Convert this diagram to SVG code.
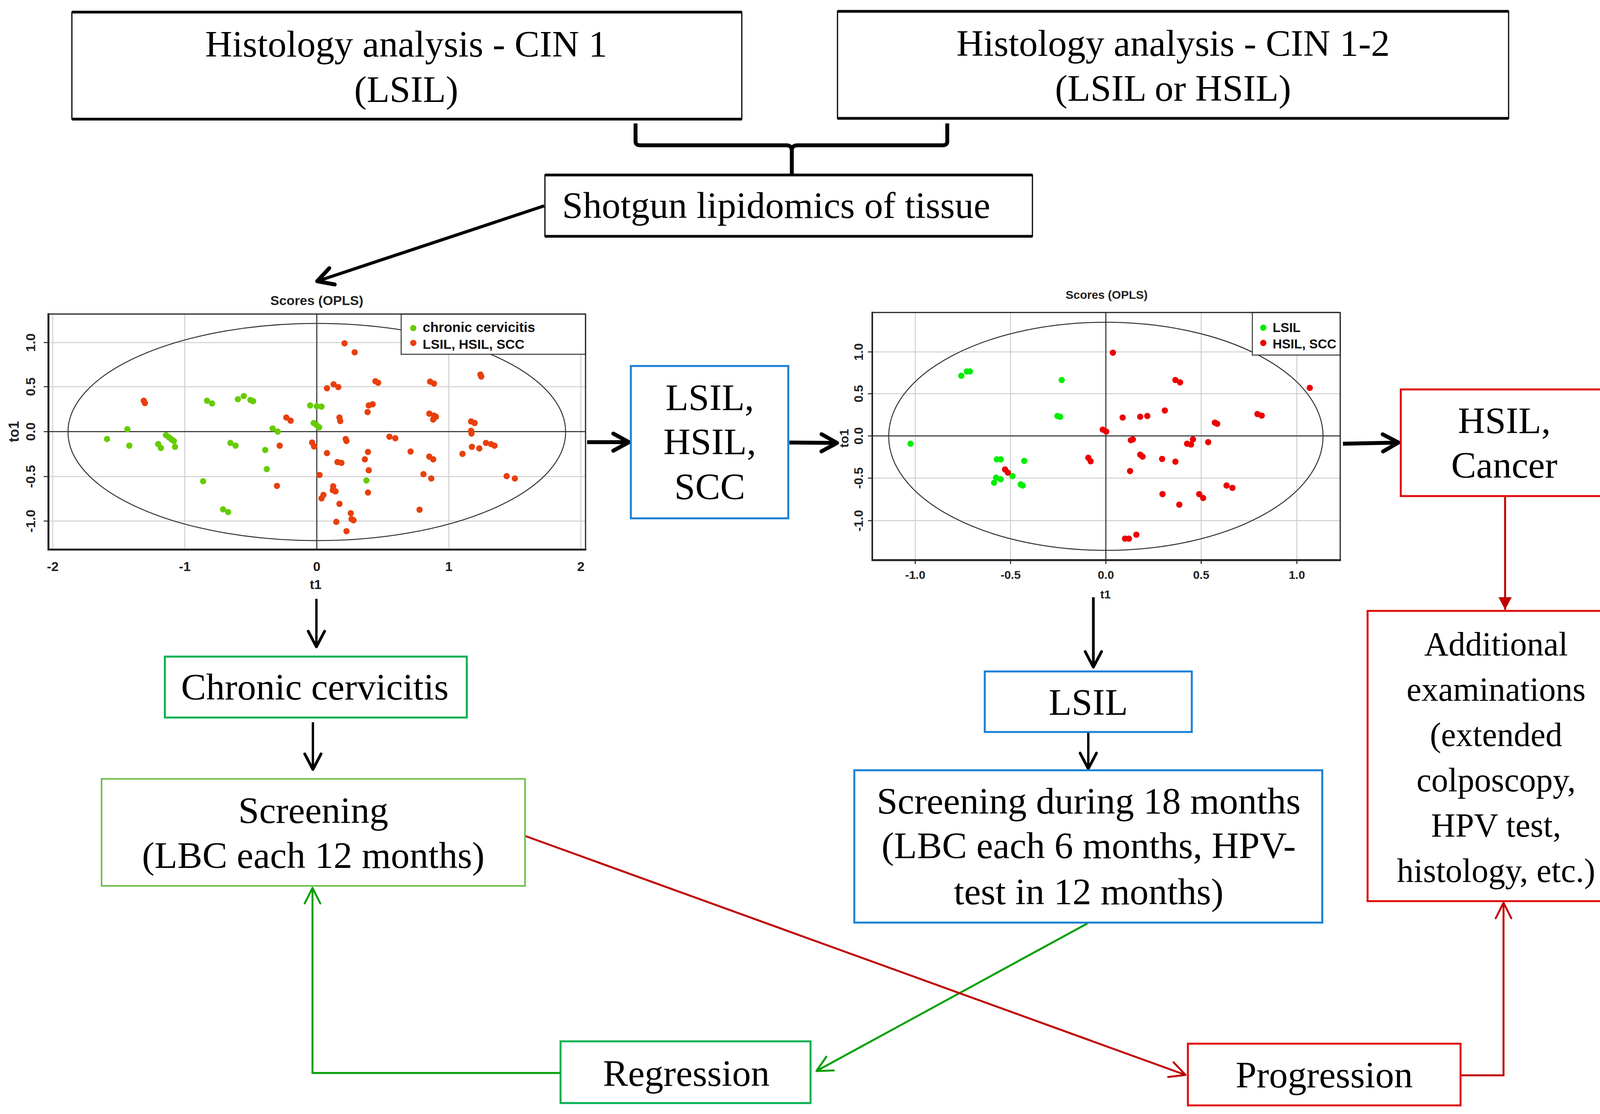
<svg xmlns="http://www.w3.org/2000/svg" width="4220" height="2852" viewBox="0 0 4220 2852">
<style>
.t{font-family:"Liberation Serif","Times New Roman",serif;font-size:96px;fill:#000;text-anchor:middle}
.ta{font-size:86px}
.ax{font-family:"Liberation Sans",Arial,sans-serif;font-weight:bold;fill:#222;text-anchor:middle}
.lg{font-family:"Liberation Sans",Arial,sans-serif;font-weight:bold;fill:#111}
.bx{fill:#fff;stroke:#000;stroke-width:3}
.hb{stroke:#000;stroke-width:7}
.blue{fill:#fff;stroke:#1a7fd4;stroke-width:5}
.red{fill:#fff;stroke:#e00a0a;stroke-width:5}
.grn{fill:#fff;stroke:#00b050;stroke-width:5}
.lgrn{fill:#fff;stroke:#6cbf4a;stroke-width:4}
.grid{stroke:#cfcfcf;stroke-width:2.5;fill:none}
.axl{stroke:#222;stroke-width:2.5;fill:none}
.frm{stroke:#222;stroke-width:3;fill:none}
.ell{stroke:#333;stroke-width:2.5;fill:none}
.g1{fill:#66cc00}.r1{fill:#e8400c}.g2{fill:#00ee00}.r2{fill:#ee0000}
circle{r:8px}
.k{stroke:#000;fill:none}
.cr{stroke:#c00000;fill:none;stroke-width:5}
.cg{stroke:#00a000;fill:none;stroke-width:5}
</style>
<defs>
<marker id="mK" viewBox="0 0 60 60" refX="54" refY="30" markerWidth="60" markerHeight="60" markerUnits="userSpaceOnUse" orient="auto" overflow="visible"><path d="M14,8 L54,30 L14,52" fill="none" stroke="#000" stroke-width="10" stroke-linecap="round" stroke-linejoin="round"/></marker>
<marker id="mk" viewBox="0 0 60 60" refX="54" refY="30" markerWidth="60" markerHeight="60" markerUnits="userSpaceOnUse" orient="auto" overflow="visible"><path d="M14,9 L54,30 L14,51" fill="none" stroke="#000" stroke-width="7" stroke-linecap="round" stroke-linejoin="round"/></marker>
<marker id="mG" viewBox="0 0 60 60" refX="54" refY="30" markerWidth="60" markerHeight="60" markerUnits="userSpaceOnUse" orient="auto" overflow="visible"><path d="M14,10 L54,30 L14,50" fill="none" stroke="#00a000" stroke-width="5" stroke-linecap="round" stroke-linejoin="round"/></marker>
<marker id="mR" viewBox="0 0 60 60" refX="54" refY="30" markerWidth="60" markerHeight="60" markerUnits="userSpaceOnUse" orient="auto" overflow="visible"><path d="M14,10 L54,30 L14,50" fill="none" stroke="#c00000" stroke-width="5" stroke-linecap="round" stroke-linejoin="round"/></marker>
<marker id="mRf" viewBox="0 0 40 40" refX="36" refY="20" markerWidth="40" markerHeight="40" markerUnits="userSpaceOnUse" orient="auto" overflow="visible"><path d="M4,3 L36,20 L4,37 Z" fill="#c00000"/></marker>
</defs>
<rect width="4220" height="2852" fill="#fff"/>

<g id="plot-left">
<line class="grid" x1="135" y1="804" x2="135" y2="1407"/>
<line class="grid" x1="473" y1="804" x2="473" y2="1407"/>
<line class="grid" x1="1149" y1="804" x2="1149" y2="1407"/>
<line class="grid" x1="1487" y1="804" x2="1487" y2="1407"/>
<line class="grid" x1="124" y1="877" x2="1499" y2="877"/>
<line class="grid" x1="124" y1="990" x2="1499" y2="990"/>
<line class="grid" x1="124" y1="1220" x2="1499" y2="1220"/>
<line class="grid" x1="124" y1="1334" x2="1499" y2="1334"/>
<line class="axl" x1="811" y1="804" x2="811" y2="1407"/>
<line class="axl" x1="124" y1="1105" x2="1499" y2="1105"/>
<ellipse class="ell" cx="811" cy="1106" rx="637" ry="278"/>
<g>
<circle class="g1" cx="274" cy="1124" r="8"/><circle class="g1" cx="326" cy="1099" r="8"/><circle class="g1" cx="331" cy="1141" r="8"/><circle class="g1" cx="425" cy="1114" r="8"/><circle class="g1" cx="433" cy="1120" r="8"/><circle class="g1" cx="439" cy="1125" r="8"/><circle class="g1" cx="445" cy="1129" r="8"/><circle class="g1" cx="405" cy="1137" r="8"/><circle class="g1" cx="412" cy="1147" r="8"/><circle class="g1" cx="448" cy="1144" r="8"/><circle class="g1" cx="530" cy="1026" r="8"/><circle class="g1" cx="543" cy="1033" r="8"/><circle class="g1" cx="609" cy="1022" r="8"/><circle class="g1" cx="624" cy="1014" r="8"/><circle class="g1" cx="641" cy="1024" r="8"/><circle class="g1" cx="648" cy="1027" r="8"/><circle class="g1" cx="590" cy="1134" r="8"/><circle class="g1" cx="603" cy="1141" r="8"/><circle class="g1" cx="698" cy="1097" r="8"/><circle class="g1" cx="711" cy="1105" r="8"/><circle class="g1" cx="679" cy="1152" r="8"/><circle class="g1" cx="683" cy="1201" r="8"/><circle class="g1" cx="520" cy="1232" r="8"/><circle class="g1" cx="571" cy="1304" r="8"/><circle class="g1" cx="584" cy="1311" r="8"/><circle class="g1" cx="794" cy="1038" r="8"/><circle class="g1" cx="811" cy="1040" r="8"/><circle class="g1" cx="823" cy="1041" r="8"/><circle class="g1" cx="803" cy="1083" r="8"/><circle class="g1" cx="811" cy="1089" r="8"/><circle class="g1" cx="817" cy="1094" r="8"/><circle class="g1" cx="938" cy="1230" r="8"/>
<circle class="r1" cx="368" cy="1026" r="8"/><circle class="r1" cx="371" cy="1032" r="8"/><circle class="r1" cx="733" cy="1069" r="8"/><circle class="r1" cx="744" cy="1077" r="8"/><circle class="r1" cx="716" cy="1141" r="8"/><circle class="r1" cx="709" cy="1244" r="8"/><circle class="r1" cx="882" cy="879" r="8"/><circle class="r1" cx="908" cy="902" r="8"/><circle class="r1" cx="837" cy="994" r="8"/><circle class="r1" cx="854" cy="984" r="8"/><circle class="r1" cx="866" cy="991" r="8"/><circle class="r1" cx="961" cy="976" r="8"/><circle class="r1" cx="968" cy="980" r="8"/><circle class="r1" cx="1101" cy="977" r="8"/><circle class="r1" cx="1111" cy="982" r="8"/><circle class="r1" cx="1230" cy="959" r="8"/><circle class="r1" cx="1232" cy="964" r="8"/><circle class="r1" cx="944" cy="1038" r="8"/><circle class="r1" cx="954" cy="1035" r="8"/><circle class="r1" cx="941" cy="1055" r="8"/><circle class="r1" cx="869" cy="1069" r="8"/><circle class="r1" cx="871" cy="1078" r="8"/><circle class="r1" cx="1099" cy="1059" r="8"/><circle class="r1" cx="1111" cy="1064" r="8"/><circle class="r1" cx="1116" cy="1067" r="8"/><circle class="r1" cx="1109" cy="1074" r="8"/><circle class="r1" cx="1206" cy="1079" r="8"/><circle class="r1" cx="1215" cy="1083" r="8"/><circle class="r1" cx="1206" cy="1103" r="8"/><circle class="r1" cx="1207" cy="1110" r="8"/><circle class="r1" cx="997" cy="1118" r="8"/><circle class="r1" cx="1012" cy="1122" r="8"/><circle class="r1" cx="885" cy="1124" r="8"/><circle class="r1" cx="887" cy="1129" r="8"/><circle class="r1" cx="799" cy="1133" r="8"/><circle class="r1" cx="804" cy="1143" r="8"/><circle class="r1" cx="1208" cy="1144" r="8"/><circle class="r1" cx="1227" cy="1148" r="8"/><circle class="r1" cx="1244" cy="1134" r="8"/><circle class="r1" cx="1257" cy="1137" r="8"/><circle class="r1" cx="1266" cy="1141" r="8"/><circle class="r1" cx="837" cy="1160" r="8"/><circle class="r1" cx="942" cy="1157" r="8"/><circle class="r1" cx="1051" cy="1156" r="8"/><circle class="r1" cx="1184" cy="1162" r="8"/><circle class="r1" cx="1099" cy="1169" r="8"/><circle class="r1" cx="1109" cy="1176" r="8"/><circle class="r1" cx="934" cy="1176" r="8"/><circle class="r1" cx="864" cy="1183" r="8"/><circle class="r1" cx="874" cy="1185" r="8"/><circle class="r1" cx="944" cy="1204" r="8"/><circle class="r1" cx="818" cy="1216" r="8"/><circle class="r1" cx="1084" cy="1214" r="8"/><circle class="r1" cx="1104" cy="1225" r="8"/><circle class="r1" cx="1297" cy="1219" r="8"/><circle class="r1" cx="1318" cy="1225" r="8"/><circle class="r1" cx="853" cy="1245" r="8"/><circle class="r1" cx="852" cy="1255" r="8"/><circle class="r1" cx="859" cy="1258" r="8"/><circle class="r1" cx="828" cy="1267" r="8"/><circle class="r1" cx="823" cy="1276" r="8"/><circle class="r1" cx="942" cy="1261" r="8"/><circle class="r1" cx="869" cy="1290" r="8"/><circle class="r1" cx="1074" cy="1305" r="8"/><circle class="r1" cx="898" cy="1314" r="8"/><circle class="r1" cx="900" cy="1329" r="8"/><circle class="r1" cx="905" cy="1332" r="8"/><circle class="r1" cx="861" cy="1336" r="8"/><circle class="r1" cx="887" cy="1360" r="8"/>
</g>
<rect x="1027" y="804" width="472" height="103" fill="#fff" stroke="#333" stroke-width="2.5"/>
<circle class="g1" cx="1058" cy="840" r="7"/>
<circle class="r1" cx="1058" cy="878" r="7"/>
<text class="lg" x="1082" y="850" font-size="35">chronic cervicitis</text>
<text class="lg" x="1082" y="893" font-size="34">LSIL, HSIL, SCC</text>
<line class="frm" x1="124" y1="804" x2="1499" y2="804"/>
<line class="frm" x1="1499" y1="804" x2="1499" y2="1407"/>
<line stroke="#222" stroke-width="5" x1="124" y1="802" x2="124" y2="1409"/>
<line stroke="#222" stroke-width="5" x1="122" y1="1407" x2="1501" y2="1407"/>
<path class="axl" d="M112,877H124M112,990H124M112,1105H124M112,1220H124M112,1334H124"/>
<text class="ax" font-size="34" x="811" y="781">Scores (OPLS)</text>
<text class="ax" font-size="34" transform="translate(90,877) rotate(-90)">1.0</text>
<text class="ax" font-size="34" transform="translate(90,990) rotate(-90)">0.5</text>
<text class="ax" font-size="34" transform="translate(90,1105) rotate(-90)">0.0</text>
<text class="ax" font-size="34" transform="translate(90,1220) rotate(-90)">-0.5</text>
<text class="ax" font-size="34" transform="translate(90,1334) rotate(-90)">-1.0</text>
<text class="ax" font-size="36" transform="translate(48,1105) rotate(-90)">to1</text>
<text class="ax" font-size="34" x="135" y="1462">-2</text>
<text class="ax" font-size="34" x="473" y="1462">-1</text>
<text class="ax" font-size="34" x="811" y="1462">0</text>
<text class="ax" font-size="34" x="1149" y="1462">1</text>
<text class="ax" font-size="34" x="1487" y="1462">2</text>
<text class="ax" font-size="34" x="808" y="1508">t1</text>
</g>

<g id="plot-right">
<line class="grid" x1="2343" y1="800" x2="2343" y2="1434"/>
<line class="grid" x1="2587" y1="800" x2="2587" y2="1434"/>
<line class="grid" x1="3075" y1="800" x2="3075" y2="1434"/>
<line class="grid" x1="3320" y1="800" x2="3320" y2="1434"/>
<line class="grid" x1="2233" y1="901" x2="3431" y2="901"/>
<line class="grid" x1="2233" y1="1008" x2="3431" y2="1008"/>
<line class="grid" x1="2233" y1="1224" x2="3431" y2="1224"/>
<line class="grid" x1="2233" y1="1333" x2="3431" y2="1333"/>
<line class="axl" x1="2831" y1="800" x2="2831" y2="1434"/>
<line class="axl" x1="2233" y1="1116" x2="3431" y2="1116"/>
<ellipse class="ell" cx="2831" cy="1117" rx="556" ry="292"/>
<g>
<circle class="g2" cx="2461" cy="962" r="8"/><circle class="g2" cx="2475" cy="951" r="8"/><circle class="g2" cx="2483" cy="951" r="8"/><circle class="g2" cx="2718" cy="973" r="8"/><circle class="g2" cx="2707" cy="1065" r="8"/><circle class="g2" cx="2714" cy="1067" r="8"/><circle class="g2" cx="2331" cy="1136" r="8"/><circle class="g2" cx="2552" cy="1176" r="8"/><circle class="g2" cx="2562" cy="1176" r="8"/><circle class="g2" cx="2622" cy="1180" r="8"/><circle class="g2" cx="2550" cy="1223" r="8"/><circle class="g2" cx="2562" cy="1227" r="8"/><circle class="g2" cx="2545" cy="1236" r="8"/><circle class="g2" cx="2592" cy="1219" r="8"/><circle class="g2" cx="2613" cy="1240" r="8"/><circle class="g2" cx="2618" cy="1243" r="8"/>
<circle class="r2" cx="2573" cy="1202" r="8"/><circle class="r2" cx="2580" cy="1210" r="8"/><circle class="r2" cx="2786" cy="1172" r="8"/><circle class="r2" cx="2792" cy="1181" r="8"/><circle class="r2" cx="2849" cy="903" r="8"/><circle class="r2" cx="3009" cy="973" r="8"/><circle class="r2" cx="3021" cy="979" r="8"/><circle class="r2" cx="3353" cy="993" r="8"/><circle class="r2" cx="2982" cy="1051" r="8"/><circle class="r2" cx="2874" cy="1069" r="8"/><circle class="r2" cx="2919" cy="1067" r="8"/><circle class="r2" cx="2937" cy="1065" r="8"/><circle class="r2" cx="3219" cy="1060" r="8"/><circle class="r2" cx="3230" cy="1064" r="8"/><circle class="r2" cx="3110" cy="1082" r="8"/><circle class="r2" cx="3116" cy="1085" r="8"/><circle class="r2" cx="2823" cy="1100" r="8"/><circle class="r2" cx="2832" cy="1105" r="8"/><circle class="r2" cx="2895" cy="1127" r="8"/><circle class="r2" cx="2900" cy="1125" r="8"/><circle class="r2" cx="3039" cy="1136" r="8"/><circle class="r2" cx="3049" cy="1138" r="8"/><circle class="r2" cx="3054" cy="1125" r="8"/><circle class="r2" cx="3093" cy="1132" r="8"/><circle class="r2" cx="2919" cy="1164" r="8"/><circle class="r2" cx="2925" cy="1169" r="8"/><circle class="r2" cx="2975" cy="1175" r="8"/><circle class="r2" cx="3009" cy="1182" r="8"/><circle class="r2" cx="2893" cy="1206" r="8"/><circle class="r2" cx="3140" cy="1243" r="8"/><circle class="r2" cx="3155" cy="1249" r="8"/><circle class="r2" cx="2976" cy="1265" r="8"/><circle class="r2" cx="3070" cy="1265" r="8"/><circle class="r2" cx="3080" cy="1275" r="8"/><circle class="r2" cx="3019" cy="1292" r="8"/><circle class="r2" cx="2880" cy="1379" r="8"/><circle class="r2" cx="2890" cy="1379" r="8"/><circle class="r2" cx="2909" cy="1369" r="8"/>
</g>
<rect x="3206" y="800" width="225" height="109" fill="#fff" stroke="#333" stroke-width="2.5"/>
<circle class="g2" cx="3234" cy="839" r="7"/>
<circle class="r2" cx="3234" cy="878" r="7"/>
<text class="lg" x="3258" y="850" font-size="33">LSIL</text>
<text class="lg" x="3258" y="892" font-size="33">HSIL, SCC</text>
<line class="frm" x1="2233" y1="800" x2="3431" y2="800"/>
<line class="frm" x1="3431" y1="800" x2="3431" y2="1434"/>
<line stroke="#222" stroke-width="4" x1="2233" y1="798" x2="2233" y2="1436"/>
<line stroke="#222" stroke-width="5" x1="2231" y1="1434" x2="3433" y2="1434"/>
<path class="axl" d="M2222,901H2233M2222,1008H2233M2222,1116H2233M2222,1224H2233M2222,1333H2233M2343,1434V1444M2587,1434V1444M2831,1434V1444M3075,1434V1444M3320,1434V1444"/>
<text class="ax" font-size="30" x="2833" y="765">Scores (OPLS)</text>
<text class="ax" font-size="32" transform="translate(2209,901) rotate(-90)">1.0</text>
<text class="ax" font-size="32" transform="translate(2209,1008) rotate(-90)">0.5</text>
<text class="ax" font-size="32" transform="translate(2209,1116) rotate(-90)">0.0</text>
<text class="ax" font-size="32" transform="translate(2209,1224) rotate(-90)">-0.5</text>
<text class="ax" font-size="32" transform="translate(2209,1333) rotate(-90)">-1.0</text>
<text class="ax" font-size="32" transform="translate(2172,1122) rotate(-90)">to1</text>
<text class="ax" font-size="30" x="2343" y="1482">-1.0</text>
<text class="ax" font-size="30" x="2587" y="1482">-0.5</text>
<text class="ax" font-size="30" x="2831" y="1482">0.0</text>
<text class="ax" font-size="30" x="3075" y="1482">0.5</text>
<text class="ax" font-size="30" x="3320" y="1482">1.0</text>
<text class="ax" font-size="30" x="2830" y="1532">t1</text>
</g>

<g id="connectors">
<path class="k" stroke-width="10" stroke-linejoin="round" d="M1627,316 V362 Q1627,372 1639,372 H2013 Q2027,372 2027,386 V448 M2027,386 Q2027,372 2041,372 H2413 Q2425,372 2425,362 V316"/>
<line class="k" stroke-width="8" x1="1393" y1="527" x2="812" y2="720" marker-end="url(#mK)"/>
<line class="k" stroke-width="10" x1="1503" y1="1132" x2="1610" y2="1132" marker-end="url(#mK)"/>
<line class="k" stroke-width="10" x1="2021" y1="1133" x2="2143" y2="1134" marker-end="url(#mK)"/>
<line class="k" stroke-width="10" x1="3438" y1="1136" x2="3580" y2="1133" marker-end="url(#mK)"/>
<line stroke="#c00000" stroke-width="5" x1="3853" y1="1271" x2="3853" y2="1561" marker-end="url(#mRf)"/>
<line class="k" stroke-width="6" x1="810" y1="1533" x2="810" y2="1656" marker-end="url(#mk)"/>
<line class="k" stroke-width="6" x1="801" y1="1849" x2="801" y2="1970" marker-end="url(#mk)"/>
<line class="k" stroke-width="7" x1="2799" y1="1529" x2="2799" y2="1708" marker-end="url(#mk)"/>
<line class="k" stroke-width="6" x1="2786" y1="1875" x2="2786" y2="1968" marker-end="url(#mk)"/>
<line class="cg" x1="2784" y1="2364" x2="2090" y2="2742" marker-end="url(#mG)"/>
<polyline class="cg" points="1435,2747 800,2747 800,2273" marker-end="url(#mG)"/>
<line class="cr" x1="1341" y1="2139" x2="3035" y2="2752" marker-end="url(#mR)"/>
<polyline class="cr" points="3739,2753 3849,2753 3849,2311" marker-end="url(#mR)"/>
</g>

<g id="n-histo1">
<rect class="bx" x="184" y="31" width="1715" height="274"/>
<path class="hb" d="M184,31H1899M184,305H1899"/>
<text class="t" x="1040" y="145">Histology analysis - CIN 1</text>
<text class="t" x="1040" y="261">(LSIL)</text>
</g>
<g id="n-histo2">
<rect class="bx" x="2144" y="29" width="1718" height="274"/>
<path class="hb" d="M2144,29H3862M2144,303H3862"/>
<text class="t" x="3003" y="143">Histology analysis - CIN 1-2</text>
<text class="t" x="3003" y="258">(LSIL or HSIL)</text>
</g>
<g id="n-shotgun">
<rect class="bx" x="1395" y="448" width="1248" height="157"/>
<path class="hb" d="M1395,448H2643M1395,605H2643"/>
<text class="t" x="1987" y="558">Shotgun lipidomics of tissue</text>
</g>
<g id="n-lhs">
<rect class="blue" x="1615" y="937" width="403" height="390"/>
<text class="t" x="1817" y="1050">LSIL,</text>
<text class="t" x="1817" y="1163">HSIL,</text>
<text class="t" x="1817" y="1278">SCC</text>
</g>
<g id="n-hsil">
<rect class="red" x="3586" y="997" width="528" height="273"/>
<text class="t" x="3851" y="1109">HSIL,</text>
<text class="t" x="3851" y="1223">Cancer</text>
</g>
<g id="n-additional">
<rect class="red" x="3501" y="1564" width="694" height="743"/>
<text class="t ta" x="3830" y="1678">Additional</text>
<text class="t ta" x="3830" y="1794">examinations</text>
<text class="t ta" x="3830" y="1910">(extended</text>
<text class="t ta" x="3830" y="2026">colposcopy,</text>
<text class="t ta" x="3830" y="2142">HPV test,</text>
<text class="t ta" x="3830" y="2258">histology, etc.)</text>
</g>
<g id="n-chronic">
<rect class="grn" x="422" y="1681" width="773" height="156"/>
<text class="t" x="806" y="1791">Chronic cervicitis</text>
</g>
<g id="n-screening">
<rect class="lgrn" x="260" y="1994" width="1084" height="274"/>
<text class="t" x="802" y="2107">Screening</text>
<text class="t" x="802" y="2222">(LBC each 12 months)</text>
</g>
<g id="n-lsil">
<rect class="blue" x="2521" y="1719" width="530" height="155"/>
<text class="t" x="2786" y="1830">LSIL</text>
</g>
<g id="n-screening18">
<rect class="blue" x="2187" y="1972" width="1198" height="390"/>
<text class="t" x="2787" y="2083">Screening during 18 months</text>
<text class="t" x="2787" y="2197">(LBC each 6 months, HPV-</text>
<text class="t" x="2787" y="2315">test in 12 months)</text>
</g>
<g id="n-regression">
<rect class="grn" x="1435" y="2666" width="640" height="158"/>
<text class="t" x="1757" y="2780">Regression</text>
</g>
<g id="n-progression">
<rect class="red" x="3041" y="2672" width="698" height="158"/>
<text class="t" x="3390" y="2784">Progression</text>
</g>
</svg>
